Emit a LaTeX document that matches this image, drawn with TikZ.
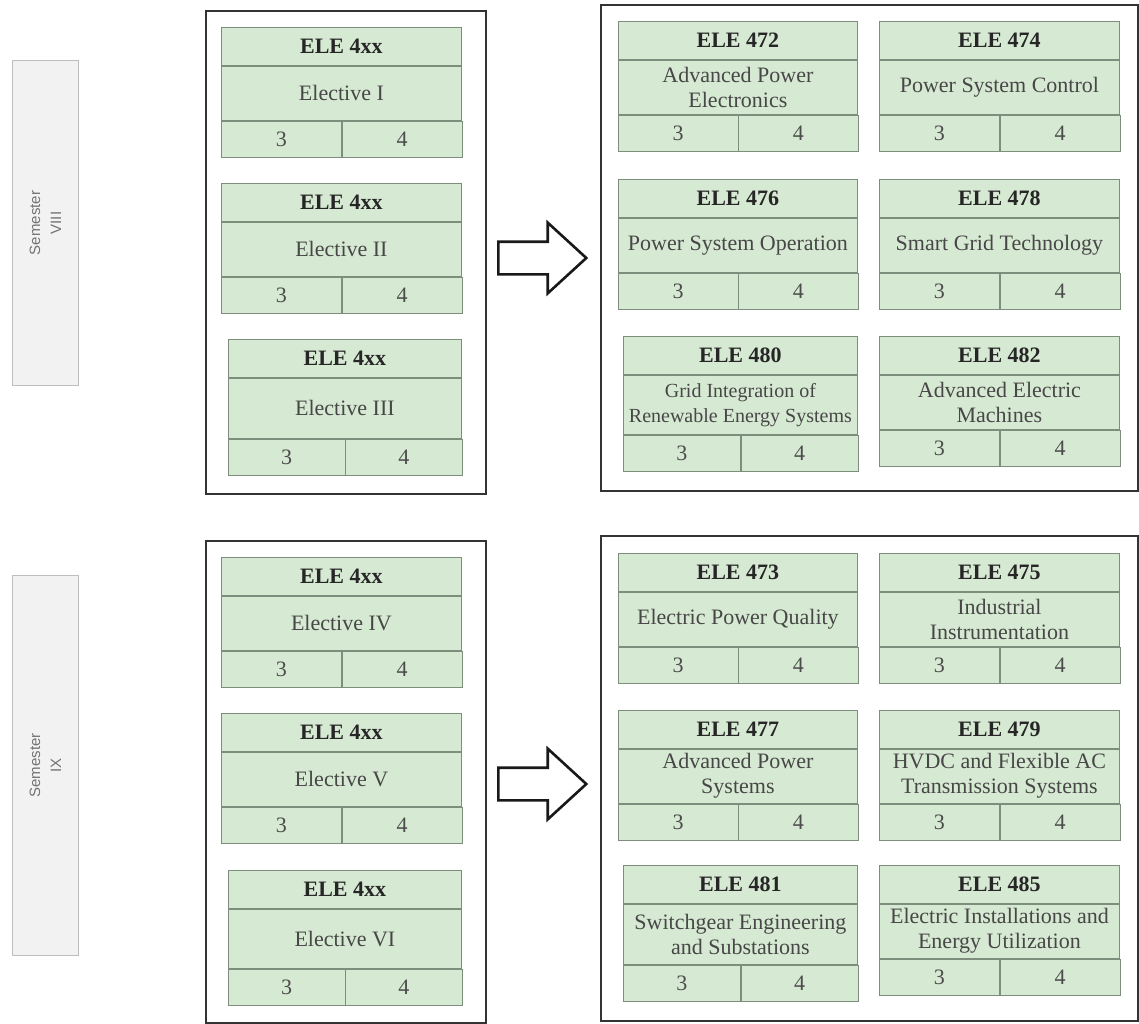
\documentclass[tikz,border=0pt]{standalone}
\usepackage{fontspec}
\setmainfont{Liberation Serif}
\setsansfont{Liberation Sans}
\usepackage{tikz}
\usetikzlibrary{shapes.arrows, positioning}
\definecolor{cell}{RGB}{214,233,210}
\definecolor{cellline}{RGB}{125,142,125}
\definecolor{semfill}{RGB}{242,242,242}
\definecolor{semline}{RGB}{190,190,190}

\newcommand{\course}[7]{%
  \node[code, minimum width=#4pt] (#1t) at (#2,#3) {#6};
  \node[body, minimum width=#4pt, minimum height=#5pt, below=0pt of #1t] (#1b) {#7};
  \node[cred, minimum width={#4pt/2}] (#1l) at (#1b.south west) {3};
  \node[cred, minimum width={#4pt/2}] (#1r) at (#1l.north east) {4};
}

\begin{document}
\begin{tikzpicture}[x=1pt, y=-1pt,
  sem/.style={draw=semline, fill=semfill, line width=1pt, anchor=north west,
              minimum width=66pt, inner sep=0pt},
  semtxt/.style={rotate=90, align=center, text=black!55,
                 font=\sffamily\fontsize{15}{21}\selectfont},
  pane/.style={draw=black!80, line width=2.4pt, anchor=north west, inner sep=0pt},
  code/.style={draw=cellline, fill=cell, line width=0.8pt, anchor=north west,
               inner sep=0pt, minimum height=38pt, text=black!85,
               font=\bfseries\fontsize{22}{25}\selectfont},
  body/.style={draw=cellline, fill=cell, line width=0.8pt, inner sep=0pt,
               align=center, text=black!72, font=\fontsize{22}{25}\selectfont},
  cred/.style={draw=cellline, fill=cell, line width=0.8pt, anchor=north west,
               inner sep=0pt, minimum height=36pt, text=black!70,
               font=\fontsize{22}{25}\selectfont},
  bigarrow/.style={single arrow, draw=black!90, fill=white, line width=2.6pt,
                   anchor=tail, inner xsep=0pt, inner ysep=15pt,
                   minimum height=88pt, minimum width=68pt,
                   single arrow head extend=19pt, single arrow tip angle=85}
]
\useasboundingbox (0,0) rectangle (1139,1024);

\node[sem, minimum height=325pt] (s8) at (12,60) {};
\node[semtxt] at (s8.center) {Semester\\VIII};
\node[sem, minimum height=380pt] (s9) at (12,575) {};
\node[semtxt] at (s9.center) {Semester\\IX};

\node[pane, minimum width=280pt, minimum height=483pt] (p8l) at (205,10) {};
\node[pane, minimum width=537pt, minimum height=486pt] (p8r) at (600,4) {};
\node[pane, minimum width=280pt, minimum height=482pt] (p9l) at (205,540) {};
\node[pane, minimum width=537pt, minimum height=485pt] (p9r) at (600,535) {};

\node[bigarrow] (a8) at (497,258) {};
\node[bigarrow] (a9) at (497,784) {};

\course{e1}{221}{27}{240}{54}{ELE 4xx}{Elective I}
\course{e2}{221}{183}{240}{54}{ELE 4xx}{Elective II}
\course{e3}{228}{339}{233}{60}{ELE 4xx}{Elective III}
\course{e4}{221}{557}{240}{54}{ELE 4xx}{Elective IV}
\course{e5}{221}{713}{240}{54}{ELE 4xx}{Elective V}
\course{e6}{228}{870}{233}{59}{ELE 4xx}{Elective VI}

\course{c472}{618}{21}{239}{54}{ELE 472}{Advanced Power\\Electronics}
\course{c474}{879}{21}{240}{54}{ELE 474}{Power System Control}
\course{c476}{618}{179}{239}{54}{ELE 476}{Power System Operation}
\course{c478}{879}{179}{240}{54}{ELE 478}{Smart Grid Technology}
\course{c480}{623}{336}{234}{59}{ELE 480}{\fontsize{20}{24}\selectfont Grid Integration of\\\fontsize{20}{24}\selectfont Renewable Energy Systems}
\course{c482}{879}{336}{240}{54}{ELE 482}{Advanced Electric\\Machines}

\course{c473}{618}{553}{239}{54}{ELE 473}{Electric Power Quality}
\course{c475}{879}{553}{240}{54}{ELE 475}{Industrial\\Instrumentation}
\course{c477}{618}{710}{239}{54}{ELE 477}{Advanced Power\\Systems}
\course{c479}{879}{710}{240}{54}{ELE 479}{HVDC and Flexible AC\\Transmission Systems}
\course{c481}{623}{865}{234}{60}{ELE 481}{Switchgear Engineering\\and Substations}
\course{c485}{879}{865}{240}{54}{ELE 485}{Electric Installations and\\Energy Utilization}
\end{tikzpicture}
\end{document}
